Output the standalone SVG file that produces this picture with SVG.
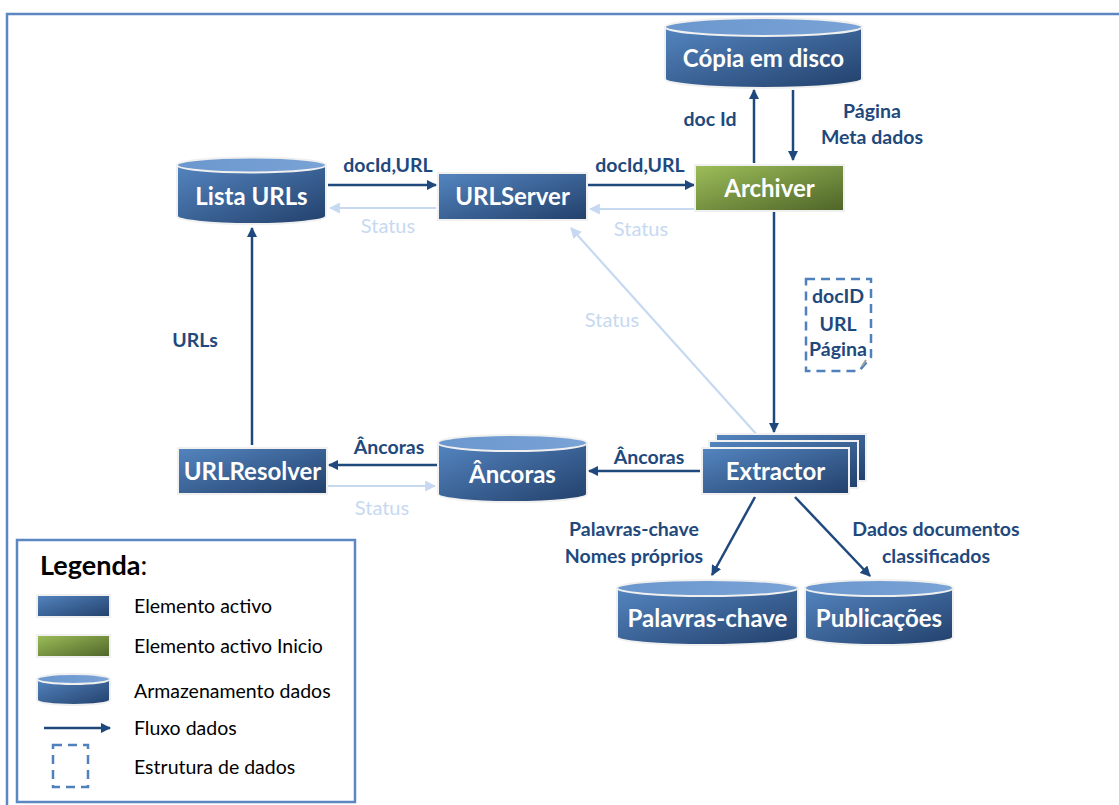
<svg xmlns="http://www.w3.org/2000/svg" width="1119" height="805" viewBox="0 0 1119 805">
  <defs>
    <linearGradient id="gBlue" x1="0" y1="0" x2="1" y2="1">
      <stop offset="0" stop-color="#5485C0"/>
      <stop offset="1" stop-color="#22406B"/>
    </linearGradient>
    <linearGradient id="gGreen" x1="0" y1="0" x2="1" y2="1">
      <stop offset="0" stop-color="#9DBE59"/>
      <stop offset="1" stop-color="#4E6428"/>
    </linearGradient>
    <linearGradient id="gTop" x1="0" y1="0" x2="1" y2="0">
      <stop offset="0" stop-color="#6A97CE"/>
      <stop offset="1" stop-color="#7AA3D6"/>
    </linearGradient>
    <marker id="ah" viewBox="0 0 10 10" refX="9" refY="5" markerWidth="4.2" markerHeight="4.2" orient="auto" markerUnits="strokeWidth">
      <path d="M0,0 L10,5 L0,10 z" fill="#1F497D"/>
    </marker>
    <marker id="ahL" viewBox="0 0 10 10" refX="9" refY="5" markerWidth="5" markerHeight="5" orient="auto" markerUnits="strokeWidth">
      <path d="M0,0 L10,5 L0,10 z" fill="#C6D9F1"/>
    </marker>
  </defs>
  <style>
    .frame { fill: none; stroke: #5B87C2; stroke-width: 2.5; }
    .box { stroke: #F0F0F0; stroke-width: 2; }
    .blue { fill: url(#gBlue); }
    .green { fill: url(#gGreen); }
    .cylTop { fill: url(#gTop); stroke: #F0F0F0; stroke-width: 2; }
    .nodeTxt { font-family: Lato, "Open Sans", sans-serif; font-weight: bold; font-size: 24px; fill: #FFFFFF; text-anchor: middle; }
    .flow { stroke: #1F497D; stroke-width: 2.5; fill: none; marker-end: url(#ah); }
    .status { stroke: #C6D9F1; stroke-width: 2.2; fill: none; marker-end: url(#ahL); }
    .lbl { font-family: Lato, "Open Sans", sans-serif; font-weight: bold; font-size: 19.5px; fill: #1F497D; text-anchor: middle; }
    .slbl { font-family: Lato, "Open Sans", sans-serif; font-size: 20px; fill: #C6D9F1; text-anchor: middle; }
    .dash { fill: none; stroke: #4F81BD; stroke-width: 2.5; stroke-dasharray: 9 6; }
    .legTxt { font-family: Lato, "Open Sans", sans-serif; font-size: 19.5px; fill: #000000; }
  </style>

  <!-- outer frame -->
  <rect x="7" y="14" width="1125" height="800" class="frame"/>

  <!-- connectors -->
  <g id="connectors">
    <line x1="328" y1="185" x2="436" y2="185" class="flow"/>
    <text x="388" y="172" class="lbl">docId,URL</text>
    <line x1="436" y1="208" x2="330" y2="208" class="status"/>
    <text x="388" y="233" class="slbl">Status</text>

    <line x1="588" y1="185" x2="694" y2="185" class="flow"/>
    <text x="640" y="172" class="lbl">docId,URL</text>
    <line x1="695" y1="209" x2="590" y2="209" class="status"/>
    <text x="641" y="236" class="slbl">Status</text>

    <line x1="754" y1="163" x2="754" y2="90" class="flow"/>
    <text x="710" y="126" class="lbl">doc Id</text>
    <line x1="793" y1="90" x2="793" y2="160" class="flow"/>
    <text x="872" y="118" class="lbl">Página</text>
    <text x="872" y="144" class="lbl">Meta dados</text>

    <line x1="774" y1="212" x2="774" y2="432" class="flow"/>

    <line x1="768" y1="447" x2="571" y2="228" class="status"/>
    <text x="612" y="327" class="slbl">Status</text>

    <line x1="700" y1="471" x2="589" y2="471" class="flow"/>
    <text x="649" y="464" class="lbl">Âncoras</text>

    <line x1="437" y1="465" x2="329" y2="465" class="flow"/>
    <text x="389" y="454" class="lbl">Âncoras</text>
    <line x1="328" y1="486" x2="435" y2="486" class="status"/>
    <text x="382" y="515" class="slbl">Status</text>

    <line x1="252" y1="445" x2="252" y2="228" class="flow"/>
    <text x="195" y="347" class="lbl">URLs</text>

    <line x1="755" y1="497" x2="712" y2="575" class="flow"/>
    <text x="634" y="536" class="lbl">Palavras-chave</text>
    <text x="634" y="563" class="lbl">Nomes próprios</text>

    <line x1="795" y1="497" x2="870" y2="576" class="flow"/>
    <text x="936" y="536" class="lbl">Dados documentos</text>
    <text x="936" y="563" class="lbl">classificados</text>
  </g>

  <!-- Cópia em disco -->
  <g id="copia">
    <path d="M665,27 V79 A98.5,9 0 0 0 862,79 V27 Z" class="blue box"/>
    <ellipse cx="763.5" cy="27" rx="98.5" ry="9" class="cylTop"/>
    <text x="763.5" y="67" class="nodeTxt" font-size="25">Cópia em disco</text>
  </g>

  <!-- Lista URLs -->
  <g id="listaUrls">
    <path d="M177,165 V216 A74.5,8 0 0 0 326,216 V165 Z" class="blue box"/>
    <ellipse cx="251.5" cy="165" rx="74.5" ry="7.5" class="cylTop"/>
    <text x="251.5" y="205" class="nodeTxt">Lista URLs</text>
  </g>

  <!-- URLServer -->
  <g id="urlServer">
    <rect x="438" y="173" width="149" height="47" class="blue box"/>
    <text x="512.5" y="205" class="nodeTxt">URLServer</text>
  </g>

  <!-- Archiver -->
  <g id="archiver">
    <rect x="695" y="165" width="149" height="46" class="green box"/>
    <text x="769.5" y="197" class="nodeTxt">Archiver</text>
  </g>

  <!-- data structure carried to the extractor -->
  <g id="dataStruct">
    <path d="M806,279 H871 V357 L859,371 H806 Z" class="dash"/>
    <path d="M862,366 L866,360" stroke="#A0A0A0" stroke-width="2"/>
    <text x="838" y="303" class="lbl">docID</text>
    <text x="838" y="331" class="lbl">URL</text>
    <text x="838" y="356" class="lbl" font-size="15.5">Página</text>
  </g>

  <!-- Extractor (stacked instances) -->
  <g id="extractor">
    <rect x="716" y="434" width="150" height="47" class="blue box"/>
    <rect x="709" y="441" width="149" height="47" class="blue box"/>
    <rect x="702" y="448" width="147" height="46" class="blue box"/>
    <text x="775.5" y="480" class="nodeTxt">Extractor</text>
  </g>

  <!-- Âncoras store -->
  <g id="ancoras">
    <path d="M438,443 V494 A74.5,8 0 0 0 587,494 V443 Z" class="blue box"/>
    <ellipse cx="512.5" cy="443" rx="74.5" ry="8" class="cylTop"/>
    <text x="512.5" y="483" class="nodeTxt">Âncoras</text>
  </g>

  <!-- URLResolver -->
  <g id="urlResolver">
    <rect x="178" y="448" width="149" height="46" class="blue box"/>
    <text x="252.5" y="480" class="nodeTxt">URLResolver</text>
  </g>

  <!-- Palavras-chave store -->
  <g id="palavras">
    <path d="M617,588 V637 A90.5,8 0 0 0 798,637 V588 Z" class="blue box"/>
    <ellipse cx="707.5" cy="588" rx="90.5" ry="8" class="cylTop"/>
    <text x="707.5" y="627" class="nodeTxt">Palavras-chave</text>
  </g>

  <!-- Publicações store -->
  <g id="publicacoes">
    <path d="M805,588 V637 A74,8 0 0 0 953,637 V588 Z" class="blue box"/>
    <ellipse cx="879" cy="588" rx="74" ry="8" class="cylTop"/>
    <text x="879" y="627" class="nodeTxt">Publicações</text>
  </g>

  <!-- legend -->
  <g id="legend">
    <rect x="17" y="540" width="338" height="262" class="frame"/>
    <text x="40" y="575" font-family="Lato, 'Open Sans', sans-serif" font-size="27" fill="#000"><tspan font-weight="bold">Legenda</tspan>:</text>
    <rect x="37" y="595" width="73" height="22" class="blue box"/>
    <text x="134" y="613" class="legTxt">Elemento activo</text>
    <rect x="37" y="635" width="73" height="22" class="green box"/>
    <text x="134" y="653" class="legTxt">Elemento activo Inicio</text>
    <path d="M37,679 V700 A36.5,5 0 0 0 110,700 V679 Z" class="blue box"/>
    <ellipse cx="73.5" cy="679" rx="36.5" ry="5" class="cylTop"/>
    <text x="134" y="698" class="legTxt">Armazenamento dados</text>
    <line x1="44" y1="728" x2="110" y2="728" class="flow"/>
    <text x="134" y="735" class="legTxt">Fluxo dados</text>
    <rect x="53" y="745" width="35" height="42" class="dash" stroke-dasharray="7 5"/>
    <text x="134" y="774" class="legTxt">Estrutura de dados</text>
  </g>
</svg>
